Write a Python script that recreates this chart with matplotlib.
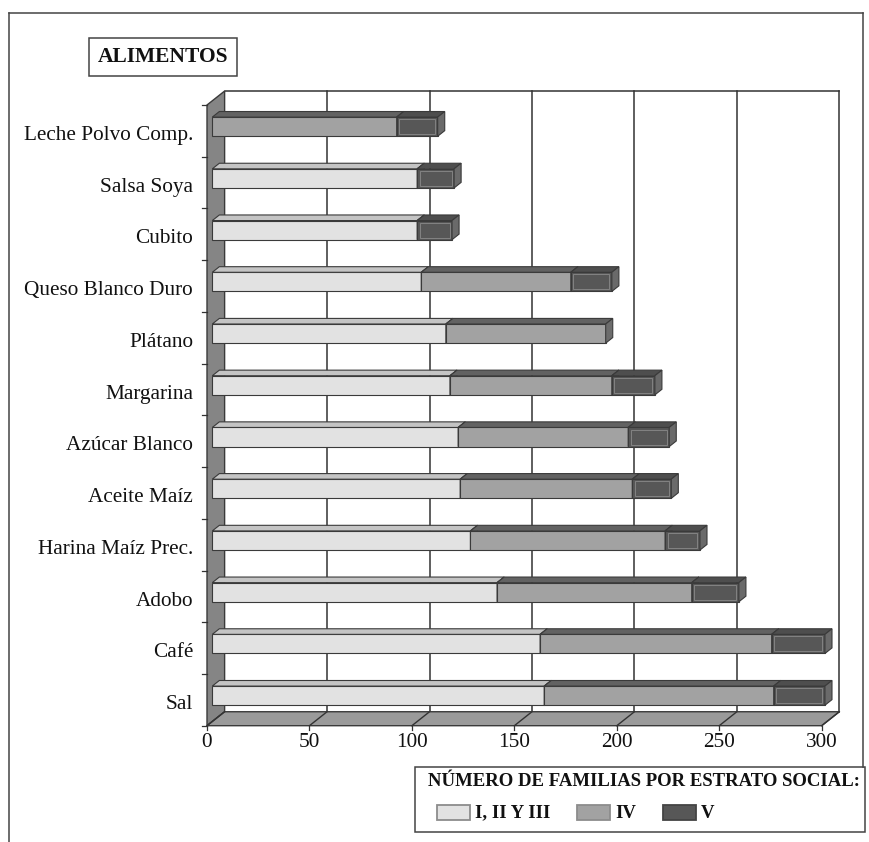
import matplotlib.pyplot as plt
from matplotlib.patches import Polygon, Rectangle
from matplotlib.lines import Line2D

# Familias por estrato social que consumen cada alimento (de abajo hacia arriba)
categories = ['Sal', 'Café', 'Adobo', 'Harina Maíz Prec.', 'Aceite Maíz',
              'Azúcar Blanco', 'Margarina', 'Plátano', 'Queso Blanco Duro',
              'Cubito', 'Salsa Soya', 'Leche Polvo Comp.']
estrato_1_3 = [162, 160, 139, 126, 121, 120, 116, 114, 102, 100, 100, 0]
estrato_4 = [112, 113, 95, 95, 84, 83, 79, 78, 73, 0, 0, 90]
estrato_5 = [25, 26, 23, 17, 19, 20, 21, 0, 20, 17, 18, 20]
series_labels = ['I, II Y III', 'IV', 'V']
xticks = [0, 50, 100, 150, 200, 250, 300]

plt.rcParams['font.family'] = ['Liberation Serif', 'DejaVu Serif']

W, H = 870, 842
fig = plt.figure(figsize=(W / 100, H / 100), dpi=100)
fig.patch.set_facecolor('white')


def fx(px):
    return px / W


def fy(py):
    return 1 - py / H


# front plane of the 3d box in pixels
x0_px, x1_px = 207, 821.7
ytop_px, ybot_px = 105, 725.7
ax = fig.add_axes([fx(x0_px), fy(ybot_px),
                   (x1_px - x0_px) / W, (ybot_px - ytop_px) / H])
n = len(categories)
ax.set_xlim(0, 300)
ax.set_ylim(-0.5, n - 0.5)
ax.axis('off')

# depth offset of the back plane, data units
DX = 8.6
DY = 0.27
D0, D1 = 0.3, 0.7      # bar depth span
BH = 0.37              # bar height
ymin, ymax = -0.5, n - 0.5
edge = '#3a3a3a'


def pt(v, c, d):
    return (v + d * DX, c + d * DY)


def poly(points, fc, z, lw=0.8, ec=edge):
    ax.add_patch(Polygon(points, closed=True, facecolor=fc, edgecolor=ec,
                         linewidth=lw, zorder=z, clip_on=False,
                         joinstyle='miter'))


def line(p, q, z=2, lw=1.1, color='#333333'):
    ax.add_line(Line2D([p[0], q[0]], [p[1], q[1]], color=color, lw=lw,
                       zorder=z, clip_on=False))


# back wall grid
for v in xticks[1:]:
    line(pt(v, ymin, 1), pt(v, ymax, 1))
line(pt(0, ymax, 1), pt(300, ymax, 1))

# left wall
poly([pt(0, ymin, 0), pt(0, ymin, 1), pt(0, ymax, 1), pt(0, ymax, 0)],
     '#858585', 2, lw=1.0)
for k in range(n + 1):
    line((-2.4, ymin + k), (0, ymin + k), lw=0.9)

# floor
poly([pt(0, ymin, 0), pt(300, ymin, 0), pt(300, ymin, 1), pt(0, ymin, 1)],
     '#9a9a9a', 2, lw=1.0)
for v in xticks:
    line(pt(v, ymin, 0), pt(v, ymin, 1), lw=1.0)
    line((v, ymin), (v, ymin - 0.08), lw=0.9)

# 3d stacked bars
front_cols = ['#e2e2e2', '#a2a2a2', '#575757']
top_cols = ['#c4c4c4', '#626262', '#4e4e4e']
side_cols = ['#b5b5b5', '#6c6c6c', '#6a6a6a']
for i in range(n):
    vals = [estrato_1_3[i], estrato_4[i], estrato_5[i]]
    left = 0
    lo, hi = i - BH / 2, i + BH / 2
    for k, w in enumerate(vals):
        if w == 0:
            continue
        a, b = left, left + w
        poly([pt(a, lo, D0), pt(b, lo, D0), pt(b, hi, D0), pt(a, hi, D0)],
             front_cols[k], 3)
        poly([pt(a, hi, D0), pt(b, hi, D0), pt(b, hi, D1), pt(a, hi, D1)],
             top_cols[k], 3)
        poly([pt(b, lo, D0), pt(b, lo, D1), pt(b, hi, D1), pt(b, hi, D0)],
             side_cols[k], 3)
        if k == 2:
            # soft inner highlight on the dark segment
            m = 1.2
            poly([pt(a + m, lo + 0.04, D0), pt(b - m, lo + 0.04, D0),
                  pt(b - m, hi - 0.04, D0), pt(a + m, hi - 0.04, D0)],
                 'none', 3.5, lw=0.6, ec='#8a8a8a')
        left = b

# category and value labels
for i, name in enumerate(categories):
    ax.text(-6.8, i - 0.09, name, ha='right', va='center', fontsize=15.3,
            color='#111111')
for v in xticks:
    ax.text(v, ymin - 0.33, str(v), ha='center', va='center', fontsize=15.3,
            color='#111111')

# title box
fig.text(fx(163), fy(57), 'ALIMENTOS', ha='center', va='center',
         fontsize=15.5, fontweight='bold', color='#111111',
         bbox=dict(boxstyle='square,pad=0.42', facecolor='white',
                   edgecolor='#444444', linewidth=1.1))

# legend box drawn by hand
fig.add_artist(Rectangle((fx(415), fy(832)), fx(865) - fx(415),
                         fy(767) - fy(832), transform=fig.transFigure,
                         facecolor='white', edgecolor='#444444',
                         linewidth=1.1))
fig.text(fx(428), fy(781), 'NÚMERO DE FAMILIAS POR ESTRATO SOCIAL:',
         ha='left', va='center', fontsize=13.5, fontweight='bold',
         color='#111111')
legend_x = [437, 577, 663]
legend_edges = ['#8c8c8c', '#8c8c8c', '#444444']
for k, lab in enumerate(series_labels):
    x = legend_x[k]
    fig.add_artist(Rectangle((fx(x), fy(820)), fx(x + 33) - fx(x),
                             fy(805) - fy(820), transform=fig.transFigure,
                             facecolor=front_cols[k],
                             edgecolor=legend_edges[k], linewidth=1.3))
    fig.text(fx(x + 38), fy(813), lab, ha='left', va='center',
             fontsize=13.5, fontweight='bold', color='#111111')

# outer frame
fc = '#444444'
fig.add_artist(Line2D([fx(9), fx(9)], [0, fy(13)], color=fc, lw=1.1))
fig.add_artist(Line2D([fx(9), fx(863)], [fy(13), fy(13)], color=fc, lw=1.1))
fig.add_artist(Line2D([fx(863), fx(863)], [fy(13), fy(767)], color=fc,
                      lw=1.1))

fig.savefig('out.png', dpi=100, facecolor='white')
